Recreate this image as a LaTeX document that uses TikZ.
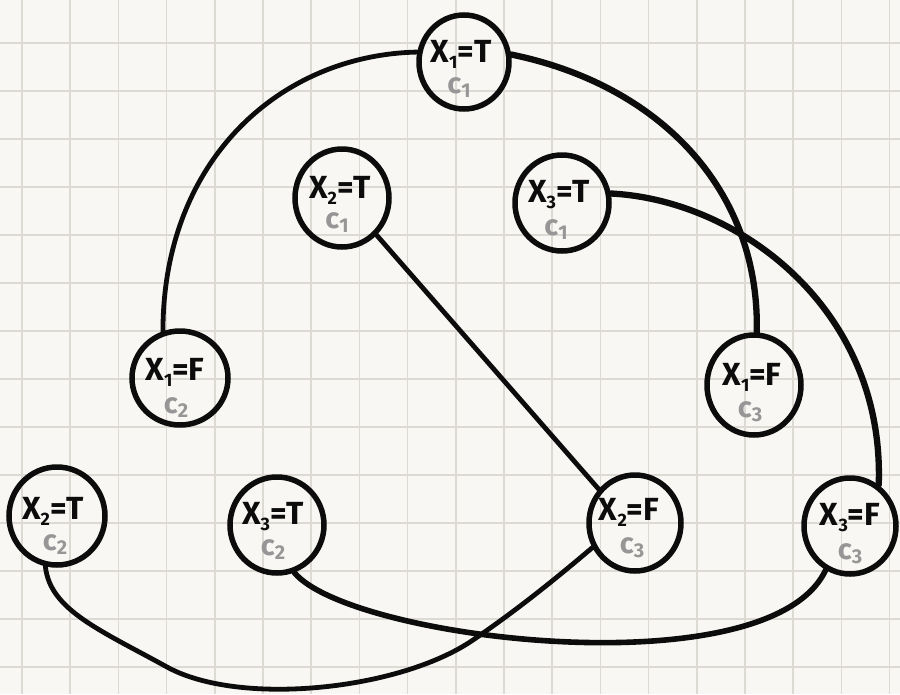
\documentclass[tikz,border=0pt]{standalone}
\usepackage{fontspec}
\setmainfont{Fira Sans}
\usetikzlibrary{shapes.geometric}
\definecolor{paper}{RGB}{249,247,243}
\definecolor{gridc}{RGB}{221,217,211}
\definecolor{ink}{RGB}{12,12,12}
\definecolor{pencil}{RGB}{150,150,150}
\newcommand\lowdigit[1]{\raisebox{-6pt}{\fontsize{18}{18}\selectfont #1}}
\newcommand\lowgray[1]{\raisebox{-4pt}{\fontsize{20}{20}\selectfont #1}}
\begin{document}
\begin{tikzpicture}[x=1pt,y=-1pt,
  gridline/.style={draw=gridc, line width=1.6pt},
  vnode/.style={ellipse, draw=ink, line width=5.5pt, inner sep=0pt},
  mainlab/.style={text=ink, font=\bfseries\fontsize{32}{32}\selectfont, inner sep=0pt},
  sublab/.style={text=pencil, font=\bfseries\fontsize{29}{29}\selectfont, inner sep=0pt},
  link/.style={draw=ink, line width=4.8pt, line cap=round},
  heavylink/.style={link, line width=6.3pt}]
% paper and grid
\fill[paper] (0,0) rectangle (900,694);
\useasboundingbox (0,0) rectangle (900,694);
\foreach \i in {0,...,18} \draw[gridline] ({22+48.2*\i},0) -- ({22+48.2*\i},694);
\foreach \j in {0,...,13} \draw[gridline] (0,{43+48*\j}) -- (900,{43+48*\j});
% nodes
\node[vnode, minimum width=90pt, minimum height=94pt] (n1) at (464,62) {};
\node[vnode, minimum width=94pt, minimum height=98pt] (n2) at (342,198) {};
\node[vnode, minimum width=94pt, minimum height=96pt] (n3) at (562,203) {};
\node[vnode, minimum width=96pt, minimum height=94pt] (n4) at (180,378) {};
\node[vnode, minimum width=94pt, minimum height=100pt] (n5) at (754,385) {};
\node[vnode, minimum width=96pt, minimum height=98pt] (n6) at (57,516) {};
\node[vnode, minimum width=94pt, minimum height=96pt] (n7) at (277,525) {};
\node[vnode, minimum width=92pt, minimum height=96pt] (n8) at (635,523) {};
\node[vnode, minimum width=92pt, minimum height=96pt] (n9) at (850,526) {};
% labels
\node[mainlab] (t1) at ([xshift=-3pt,yshift=8pt]n1.center) {X\lowdigit{1}=T};
\node[sublab] (s1) at ([xshift=-5pt,yshift=-26pt]n1.center) {c\lowgray{1}};
\node[mainlab] (t2) at ([xshift=-2pt,yshift=8pt]n2.center) {X\lowdigit{2}=T};
\node[sublab] (s2) at ([xshift=-5pt,yshift=-25pt]n2.center) {c\lowgray{1}};
\node[mainlab] (t3) at ([xshift=-3pt,yshift=8pt]n3.center) {X\lowdigit{3}=T};
\node[sublab] (s3) at ([xshift=-6pt,yshift=-27pt]n3.center) {c\lowgray{1}};
\node[mainlab] (t4) at ([xshift=-5pt,yshift=6pt]n4.center) {X\lowdigit{1}=F};
\node[sublab] (s4) at ([xshift=-4pt,yshift=-30pt]n4.center) {c\lowgray{2}};
\node[mainlab] (t5) at ([xshift=-2pt,yshift=8pt]n5.center) {X\lowdigit{1}=F};
\node[sublab] (s5) at ([xshift=-4pt,yshift=-27pt]n5.center) {c\lowgray{3}};
\node[mainlab] (t6) at ([xshift=-4pt,yshift=5pt]n6.center) {X\lowdigit{2}=T};
\node[sublab] (s6) at ([xshift=-2pt,yshift=-29pt]n6.center) {c\lowgray{2}};
\node[mainlab] (t7) at ([xshift=-4pt,yshift=8pt]n7.center) {X\lowdigit{3}=T};
\node[sublab] (s7) at ([xshift=-4pt,yshift=-25pt]n7.center) {c\lowgray{2}};
\node[mainlab] (t8) at ([xshift=-6pt,yshift=11pt]n8.center) {X\lowdigit{2}=F};
\node[sublab] (s8) at ([xshift=-3pt,yshift=-25pt]n8.center) {c\lowgray{3}};
\node[mainlab] (t9) at ([xshift=0pt,yshift=8pt]n9.center) {X\lowdigit{3}=F};
\node[sublab] (s9) at ([xshift=0pt,yshift=-28pt]n9.center) {c\lowgray{3}};
% connectors
\draw[link] (n1.168) .. controls (280,55) and (163,160) .. (n4.110);
\draw[heavylink] (n1.9) .. controls (660,85) and (760,190) .. (n5.87);
\draw[link] (n2.-47) -- (n8.137);
\draw[heavylink] (n3.11) .. controls (740,200) and (885,310) .. (n9.55);
\draw[link] (n6.-103) .. controls (50,610) and (100,630) .. (167,667)
  .. controls (240,707) and (400,690) .. (473,640)
  .. controls (520,608) and (560,575) .. (n8.-150);
\draw[link, line width=5.6pt] (n7.-70) .. controls (350,640) and (770,690) .. (n9.-119);
\end{tikzpicture}
\end{document}
